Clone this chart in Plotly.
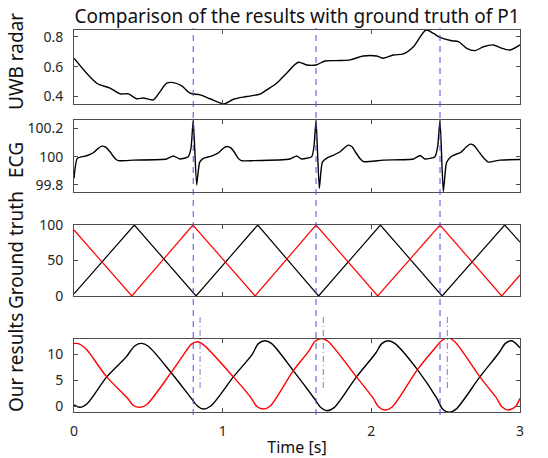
import plotly.graph_objects as go

# ---------------- data ----------------
uwb_t = [0.000, 0.153, 0.243, 0.310, 0.366, 0.422, 0.467, 0.534, 0.579, 0.624, 0.669, 0.725, 0.780,
         0.848, 0.915, 1.009, 1.072, 1.161, 1.251, 1.296, 1.363, 1.430, 1.509, 1.565, 1.628, 1.688,
         1.767, 1.857, 1.946, 2.036, 2.081, 2.148, 2.216, 2.283, 2.368, 2.418, 2.462, 2.541, 2.586,
         2.642, 2.698, 2.754, 2.821, 2.866, 2.933, 3.000]
uwb_v = [0.656, 0.489, 0.456, 0.418, 0.418, 0.385, 0.390, 0.378, 0.433, 0.489, 0.493, 0.471, 0.422,
         0.411, 0.385, 0.351, 0.382, 0.400, 0.416, 0.444, 0.489, 0.556, 0.629, 0.611, 0.611, 0.638,
         0.640, 0.645, 0.671, 0.671, 0.656, 0.678, 0.685, 0.733, 0.845, 0.822, 0.796, 0.773, 0.767,
         0.722, 0.707, 0.733, 0.745, 0.727, 0.711, 0.745]

ecg_t = [0.000, 0.022, 0.085, 0.130, 0.163, 0.186, 0.215, 0.242, 0.276, 0.298, 0.399, 0.623, 0.668,
         0.713, 0.769, 0.787, 0.802, 0.825, 0.845, 0.870, 0.892, 0.937, 0.975, 1.003, 1.027, 1.055,
         1.080, 1.105, 1.125, 1.206, 1.453, 1.498, 1.531, 1.599, 1.614, 1.628, 1.650, 1.670, 1.700,
         1.744, 1.790, 1.822, 1.845, 1.870, 1.895, 1.925, 1.946, 2.081, 2.283, 2.328, 2.361, 2.428,
         2.446, 2.462, 2.484, 2.505, 2.530, 2.552, 2.600, 2.640, 2.664, 2.690, 2.720, 2.760, 2.787,
         2.866, 3.000]
ecg_v = [99.847, 99.988, 100.007, 100.028, 100.059, 100.075, 100.066, 100.035, 99.988, 99.972, 99.976,
         99.984, 100.005, 99.984, 100.000, 100.060, 100.260, 99.800, 99.960, 99.988, 99.995, 100.010,
         100.030, 100.058, 100.072, 100.062, 100.030, 99.988, 99.972, 99.972, 99.984, 100.005, 99.984,
         100.000, 100.070, 100.260, 99.777, 99.960, 99.990, 100.010, 100.035, 100.065, 100.082, 100.070,
         100.030, 99.985, 99.965, 99.976, 99.984, 100.009, 99.984, 100.000, 100.070, 100.260, 99.753,
         99.955, 99.995, 100.010, 100.030, 100.070, 100.089, 100.080, 100.040, 99.985, 99.962, 99.976,
         99.980]

gt_red_t = [0.000, 0.389, 0.800, 1.218, 1.628, 2.043, 2.462, 2.877, 3.000]
gt_red_v = [93, 0, 100, 0, 100, 0, 100, 0, 29.6]
gt_blk_t = [0.000, 0.406, 0.821, 1.236, 1.645, 2.061, 2.476, 2.897, 3.000]
gt_blk_v = [3, 100, 0, 100, 0, 100, 0, 100, 76]

our_blk_t = [0.00, 0.04, 0.09, 0.22, 0.35, 0.41, 0.455, 0.50, 0.657, 0.78, 0.83, 0.87, 0.92, 1.072,
             1.20, 1.24, 1.285, 1.33, 1.475, 1.62, 1.66, 1.70, 1.75, 1.90, 2.03, 2.07, 2.114, 2.16,
             2.31, 2.44, 2.48, 2.524, 2.57, 2.73, 2.86, 2.90, 2.944, 3.00]
our_blk_v = [0.2, -0.25, 0.5, 5.6, 9.4, 11.6, 12.05, 11.5, 6.3, 1.8, 0.0, -0.58, 0.0, 5.6,
             10.0, 12.0, 12.56, 12.0, 6.8, 1.3, -0.3, -0.9, -0.3, 5.6, 10.2, 12.0, 12.56, 12.0,
             7.0, 1.5, -0.6, -1.2, -0.6, 5.6, 10.3, 12.0, 12.56, 11.2]
our_red_t = [0.00, 0.03, 0.08, 0.22, 0.36, 0.40, 0.444, 0.49, 0.657, 0.74, 0.79, 0.83, 0.87, 1.072,
             1.19, 1.23, 1.273, 1.32, 1.475, 1.58, 1.62, 1.666, 1.71, 1.90, 2.01, 2.05, 2.092, 2.14,
             2.31, 2.43, 2.47, 2.511, 2.56, 2.73, 2.84, 2.88, 2.921, 2.97, 3.00]
our_red_v = [12.05, 12.0, 11.0, 5.6, 1.5, 0.1, -0.25, 0.3, 6.6, 10.0, 11.9, 12.37, 11.8, 5.6,
             1.6, -0.1, -0.58, 0.0, 6.8, 10.6, 12.4, 13.0, 12.4, 5.6, 1.6, -0.2, -0.77, -0.2,
             7.0, 11.2, 12.5, 13.1, 12.4, 5.6, 1.6, -0.2, -0.77, -0.1, 1.47]

r_peak_times = [0.802, 1.628, 2.462]
est_peak_times = [0.848, 1.677, 2.511]

panel_titles = ["UWB radar", "ECG", "Ground truth", "Our results"]
x_ticks = [0, 1, 2, 3]

# ---------------- figure ----------------
FONT = "Noto Sans"
AX = "#4d4d4d"
W, H = 548, 458
ML, MR, MT, MB = 74, 28, 30, 46
PH = H - MT - MB

fig = go.Figure()
fig.add_trace(go.Scatter(x=uwb_t, y=uwb_v, mode="lines", line=dict(color="black", width=1.4, shape="spline", smoothing=0.8), xaxis="x", yaxis="y"))
fig.add_trace(go.Scatter(x=ecg_t, y=ecg_v, mode="lines", line=dict(color="black", width=1.4, shape="spline", smoothing=0.5), xaxis="x2", yaxis="y2"))
fig.add_trace(go.Scatter(x=gt_blk_t, y=gt_blk_v, mode="lines", line=dict(color="black", width=1.2), xaxis="x3", yaxis="y3"))
fig.add_trace(go.Scatter(x=gt_red_t, y=gt_red_v, mode="lines", line=dict(color="red", width=1.2), xaxis="x3", yaxis="y3"))
fig.add_trace(go.Scatter(x=our_blk_t, y=our_blk_v, mode="lines", line=dict(color="black", width=1.4, shape="spline", smoothing=0.8), xaxis="x4", yaxis="y4"))
fig.add_trace(go.Scatter(x=our_red_t, y=our_red_v, mode="lines", line=dict(color="red", width=1.4, shape="spline", smoothing=0.8), xaxis="x4", yaxis="y4"))

def py(pixel_y):
    return (H - MB - pixel_y) / PH

for t in r_peak_times:
    fig.add_shape(type="line", xref="x", yref="paper", x0=t, x1=t, y0=py(415), y1=py(28),
                  line=dict(color="#4a4af0", width=1, dash="6px,5px"), layer="above")
for t in est_peak_times:
    fig.add_shape(type="line", xref="x", yref="paper", x0=t, x1=t, y0=py(388), y1=py(314),
                  line=dict(color="#9b6bd0", width=1, dash="6px,3px,1px,3px"), layer="above")

domains = [[py(104), 1.0], [py(192), py(120)], [py(296), py(225)], [0.0, py(338.7)]]
ranges = [[0.35, 0.845], [99.75, 100.26], [0, 100], [-1.15, 12.95]]
yticks = [[0.4, 0.6, 0.8], [99.8, 100, 100.2], [0, 50, 100], [0, 5, 10]]
ytext = [["0.4", "0.6", "0.8"], ["99.8", "100", "100.2"], ["0", "50", "100"], ["0", "5", "10"]]
title_centers = [62, 160, 250, 363]

axis_common = dict(showline=True, linecolor=AX, linewidth=1, mirror="ticks", ticks="inside",
                   ticklen=4, tickcolor=AX, showgrid=False, zeroline=False, automargin=False,
                   tickfont=dict(family=FONT, size=14, color="#262626"))
layout = dict(
    width=W, height=H,
    margin=dict(l=ML, r=MR, t=MT, b=MB, autoexpand=False),
    paper_bgcolor="white", plot_bgcolor="white",
    showlegend=False,
    font=dict(family=FONT, color="#262626"),
    title=dict(text="Comparison of the results with ground truth of P1", x=(ML + (W - ML - MR) / 2) / W,
               xanchor="center", y=1 - 16 / H, yanchor="middle", yref="container",
               font=dict(family=FONT, size=19, color="#111111")),
)
for i in range(4):
    s = "" if i == 0 else str(i + 1)
    layout["xaxis" + s] = dict(axis_common, domain=[0, 1], range=[0, 3], tickvals=x_ticks,
                               showticklabels=(i == 3), anchor="y" + s, ticklabelstandoff=6)
    layout["yaxis" + s] = dict(axis_common, domain=domains[i], range=ranges[i], tickvals=yticks[i],
                               ticktext=ytext[i], anchor="x" + s, ticklabelstandoff=7)
layout["xaxis4"]["title"] = dict(text="Time [s]", font=dict(family=FONT, size=16, color="#111111"), standoff=3)
fig.update_layout(**layout)

for i, txt in enumerate(panel_titles):
    fig.add_annotation(text=txt, xref="paper", yref="paper", x=(16 - ML) / (W - ML - MR),
                       y=py(title_centers[i]), xanchor="center", yanchor="middle",
                       textangle=-90, showarrow=False,
                       font=dict(family=FONT, size=19, color="#111111"))

fig.write_html("out.html")
